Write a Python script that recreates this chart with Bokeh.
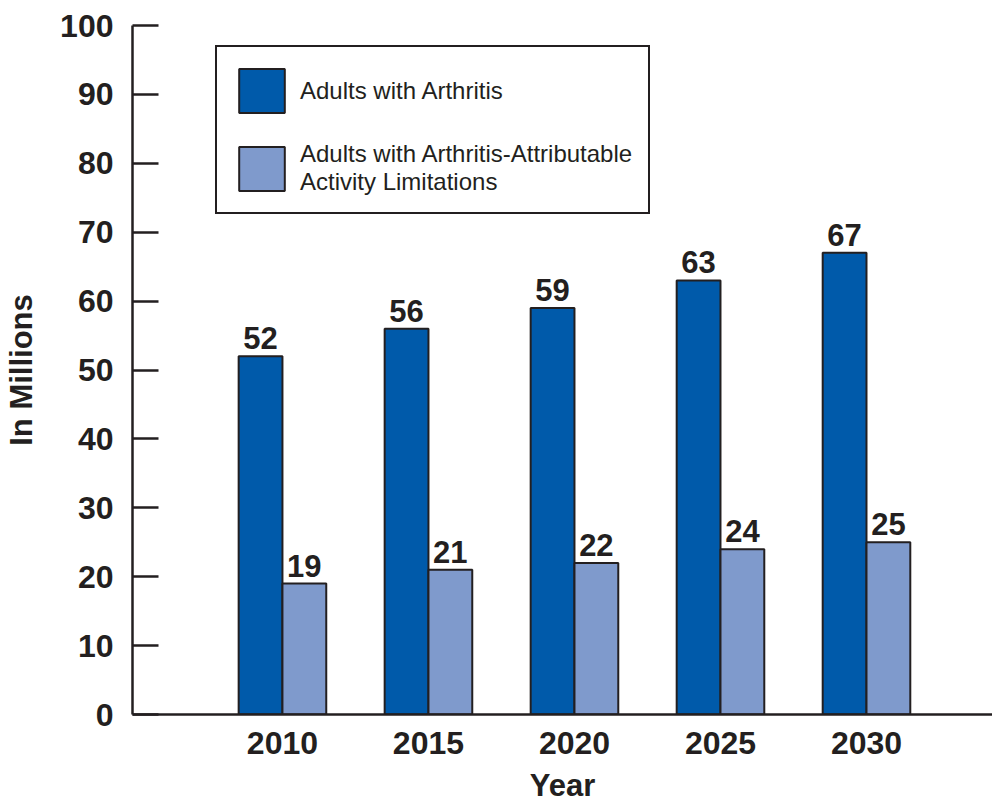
from bokeh.plotting import figure
from bokeh.models import ColumnDataSource, Range1d, FixedTicker, LabelSet, Legend, LegendItem
from bokeh.transform import dodge
from bokeh.core.properties import value
from bokeh.embed import file_html
from bokeh.resources import INLINE

years = ["2010", "2015", "2020", "2025", "2030"]
arthritis = [52, 56, 59, 63, 67]
limitations = [19, 21, 22, 24, 25]
series_names = ["Adults with Arthritis",
                "Adults with Arthritis-Attributable\nActivity Limitations"]
y_ticks = list(range(0, 101, 10))

DARK = "#005AAA"
LIGHT = "#7F9ACC"
INK = "#231F20"
FONT = "Liberation Sans"

idx = list(range(len(years)))
src = ColumnDataSource(dict(
    x=idx,
    a=arthritis,
    b=limitations,
    at=[str(v) for v in arthritis],
    bt=[str(v) for v in limitations],
))

p = figure(width=992, height=805, output_backend="svg", toolbar_location=None,
           x_range=Range1d(-1.027, 4.863), y_range=Range1d(0, 100),
           min_border_left=132, min_border_right=0, min_border_top=25,
           min_border_bottom=91)
p.outline_line_color = None
p.grid.visible = False
p.background_fill_color = "white"

bw = 0.3
r1 = p.vbar(x=dodge("x", -bw / 2, range=p.x_range), top="a", width=bw, source=src,
            fill_color=DARK, line_color=INK, line_width=2)
r2 = p.vbar(x=dodge("x", bw / 2, range=p.x_range), top="b", width=bw, source=src,
            fill_color=LIGHT, line_color=INK, line_width=2)

for col, txt, off in (("a", "at", -bw / 2), ("b", "bt", bw / 2)):
    lbl = LabelSet(x=dodge("x", off, range=p.x_range), y=col, text=txt, source=src,
                   y_offset=7, text_align="center", text_baseline="bottom",
                   text_font_size="31px", text_font_style="bold",
                   text_font=value(FONT), text_color=INK)
    p.add_layout(lbl)

legend = Legend(items=[LegendItem(label=series_names[0], renderers=[r1]),
                       LegendItem(label=series_names[1], renderers=[r2])],
                location=(83, 500), border_line_color=INK, border_line_width=2,
                border_line_alpha=1.0,
                padding=16, spacing=22, glyph_width=57, glyph_height=55,
                label_standoff=10, label_text_font_size="24px",
                label_text_font=FONT, label_text_color=INK,
                background_fill_alpha=1.0)
p.add_layout(legend)

# y axis
ya = p.yaxis[0]
ya.ticker = FixedTicker(ticks=y_ticks)
ya.axis_label = "In Millions"
ya.major_tick_in = 26
ya.major_tick_out = 0
ya.minor_tick_line_color = None
ya.axis_line_width = 2.5
ya.axis_line_color = INK
ya.major_tick_line_width = 2.5
ya.major_tick_line_color = INK
ya.major_label_standoff = 19
ya.major_label_text_font = FONT
ya.major_label_text_font_size = "32px"
ya.major_label_text_font_style = "bold"
ya.major_label_text_color = INK
ya.axis_label_text_font = FONT
ya.axis_label_text_font_size = "31px"
ya.axis_label_text_font_style = "bold"
ya.axis_label_text_color = INK
ya.axis_label_standoff = 18

# x axis
xa = p.xaxis[0]
xa.ticker = FixedTicker(ticks=idx)
xa.major_label_overrides = {i: y for i, y in zip(idx, years)}
xa.axis_label = "Year"
xa.major_tick_in = 0
xa.major_tick_out = 0
xa.minor_tick_line_color = None
xa.axis_line_width = 2.5
xa.axis_line_color = INK
xa.major_label_standoff = 17
xa.major_label_text_font = FONT
xa.major_label_text_font_size = "32px"
xa.major_label_text_font_style = "bold"
xa.major_label_text_color = INK
xa.axis_label_text_font = FONT
xa.axis_label_text_font_size = "31px"
xa.axis_label_text_font_style = "bold"
xa.axis_label_text_color = INK
xa.axis_label_standoff = 11

open("out.html", "w").write(file_html(p, INLINE))
